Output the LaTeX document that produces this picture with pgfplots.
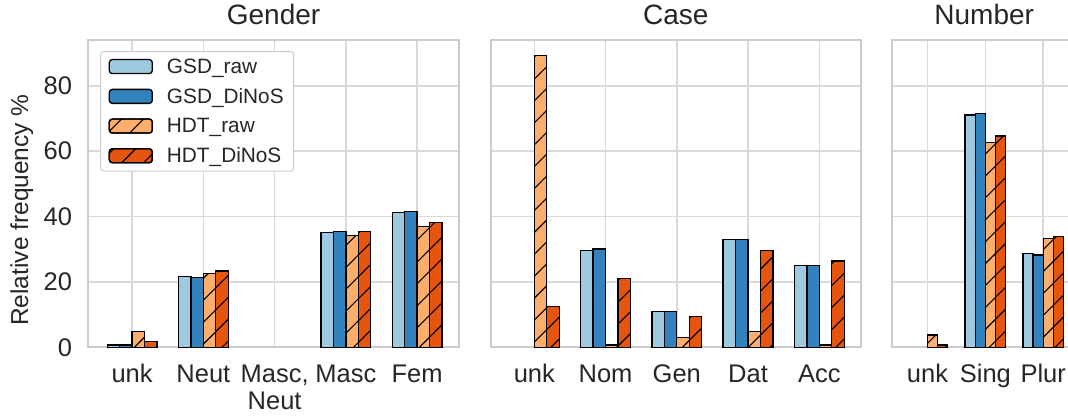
\documentclass[border=0pt]{standalone}
\usepackage{pgfplots}
\pgfplotsset{compat=1.18}
\usetikzlibrary{patterns.meta}
\usepackage{fontspec}
\setmainfont{Liberation Sans}
\definecolor{gsdraw}{HTML}{9ECAE1}
\definecolor{gsddinos}{HTML}{3182BD}
\definecolor{hdtraw}{HTML}{FDAE6B}
\definecolor{hdtdinos}{HTML}{E6550D}
\definecolor{gridc}{HTML}{D9D9D9}
\definecolor{spinec}{HTML}{CCCCCC}
\definecolor{textc}{HTML}{262626}
\pgfplotsset{
  layers/mylayers/.define layer set={axis background,axis grid,main,axis ticks,axis lines,axis tick labels,axis descriptions,axis foreground}{},
  myaxis/.style={
    set layers=mylayers,
    scale only axis,
    height=307.3pt,
    ymin=0, ymax=94,
    ytick={0,20,40,60,80},
    xmajorgrids, ymajorgrids,
    grid style={line width=1.5pt, color=gridc},
    axis line style={line width=2pt, color=spinec},
    major tick length=0pt,
    tick label style={font=\fontsize{25.5}{27}\selectfont, text=textc},
    xticklabel style={anchor=base, yshift=-35pt, inner sep=0pt},
    yticklabel style={anchor=east, inner sep=0pt, xshift=-16pt},
    title style={font=\fontsize{28}{30}\selectfont, text=textc, anchor=base, at={(0.5,1)}, yshift=10pt, inner sep=0pt},
    ybar, bar width=0.175,
    restrict y to domain=0.001:200,
    /pgf/number format/assume math mode=true,
    anchor=south west,
    legend image code/.code={\draw[##1] (0pt,-7pt) rectangle (43pt,7pt); \path (55pt,0pt);},
  },
  s1/.style={fill=gsdraw, draw=black, line width=1.3pt, bar shift=-0.2625},
  s2/.style={fill=gsddinos, draw=black, line width=1.3pt, bar shift=-0.0875},
  s3/.style={fill=hdtraw, draw=black, line width=1.3pt, bar shift=0.0875,
    postaction={pattern={Lines[angle=45,distance=15.5pt,line width=1.1pt]}, pattern color=black}},
  s4/.style={fill=hdtdinos, draw=black, line width=1.3pt, bar shift=0.2625,
    postaction={pattern={Lines[angle=45,distance=15.5pt,line width=1.1pt]}, pattern color=black}},
}
\begin{document}
\begin{tikzpicture}
% Gender
\begin{axis}[myaxis, at={(88.3pt,68.7pt)}, width=370.5pt,
  xmin=-0.615, xmax=4.585,
  xtick={0,1,2,3,4},
  xticklabels={unk, Neut, {\begin{tabular}[t]{@{}c@{}}Masc,\\Neut\end{tabular}}, Masc, Fem},
  title={Gender},
  legend cell align=left,
  legend style={at={(0.032,0.964)}, anchor=north west, draw=spinec, rounded corners=3pt,
    line width=1pt, fill=white, font=\fontsize{20.8}{24}\selectfont, text=textc,
    row sep=9.5pt, inner xsep=8pt, inner ysep=5pt},
]
\addplot[s1] coordinates {(0,0.7) (1,21.6) (2,0) (3,35.1) (4,41.2)};
\addplot[s2] coordinates {(0,0.7) (1,21.3) (2,0) (3,35.5) (4,41.6)};
\addplot[s3] coordinates {(0,4.8) (1,22.5) (2,0) (3,34.3) (4,36.9)};
\addplot[s4] coordinates {(0,1.7) (1,23.3) (2,0) (3,35.5) (4,38.2)};
\legend{GSD\_raw, GSD\_DiNoS, HDT\_raw, HDT\_DiNoS}
\end{axis}
% Case
\begin{axis}[myaxis, at={(490.5pt,68.7pt)}, width=370.5pt,
  xmin=-0.615, xmax=4.585,
  xtick={0,1,2,3,4},
  xticklabels={unk, Nom, Gen, Dat, Acc},
  yticklabels={},
  title={Case},
]
\addplot[s1] coordinates {(0,0) (1,29.7) (2,10.9) (3,32.9) (4,25.1)};
\addplot[s2] coordinates {(0,0) (1,30.1) (2,10.9) (3,32.9) (4,25.1)};
\addplot[s3] coordinates {(0,89.3) (1,0.7) (2,3.0) (3,4.8) (4,0.7)};
\addplot[s4] coordinates {(0,12.5) (1,21.0) (2,9.5) (3,29.7) (4,26.4)};
\end{axis}
% Number
\begin{axis}[myaxis, at={(891.7pt,68.7pt)}, width=185pt,
  xmin=-0.62, xmax=2.58,
  xtick={0,1,2},
  xticklabels={unk, Sing, Plur},
  yticklabels={},
  title={Number},
]
\addplot[s1] coordinates {(0,0) (1,71.1) (2,28.6)};
\addplot[s2] coordinates {(0,0) (1,71.6) (2,28.2)};
\addplot[s3] coordinates {(0,3.8) (1,62.6) (2,33.2)};
\addplot[s4] coordinates {(0,0.7) (1,64.6) (2,33.9)};
\end{axis}
\node[rotate=90, anchor=base, font=\fontsize{24.5}{28}\selectfont, text=textc] at (28pt,206pt) {Relative frequency \%};
\pgfresetboundingbox
\useasboundingbox (0pt,0pt) rectangle (1068pt,416pt);
\end{tikzpicture}
\end{document}
